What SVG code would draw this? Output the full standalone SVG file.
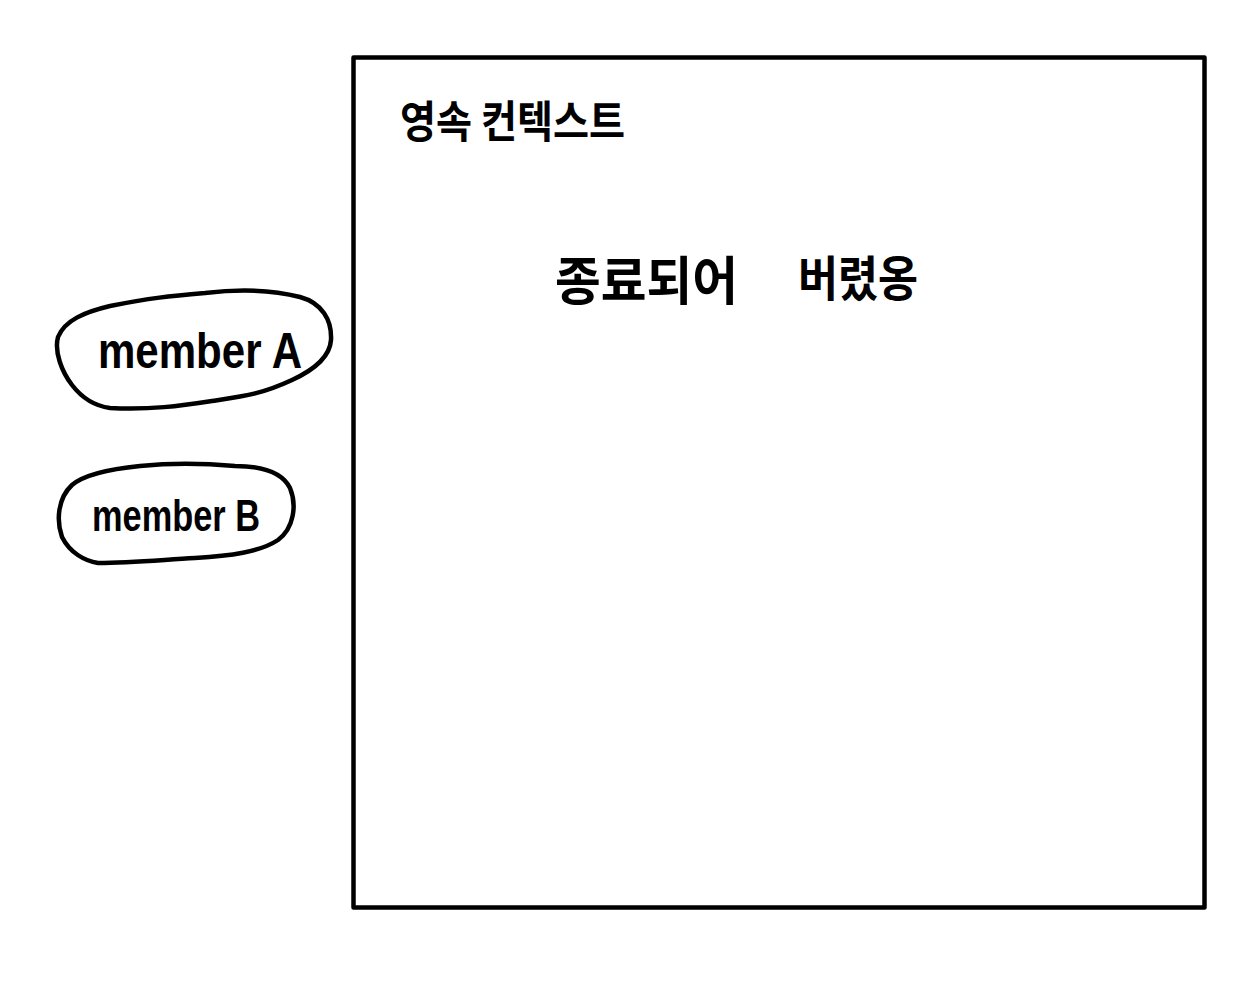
<svg xmlns="http://www.w3.org/2000/svg" width="1248" height="1000" viewBox="0 0 1248 1000">
<style>
.ln{fill:none;stroke:#000;stroke-width:4.5;stroke-linecap:round;stroke-linejoin:round}
.lbl{font-family:"Noto Sans CJK KR","Noto Sans",sans-serif;font-weight:bold;fill:#000}
.en{font-family:"Liberation Sans Narrow","Liberation Sans","Noto Sans",sans-serif;font-weight:bold;fill:#000}
</style>
<rect width="1248" height="1000" fill="#fff"/>
<g id="context">
<rect class="ln" x="353.5" y="57.5" width="851" height="850"/>
<text class="lbl" x="400" y="138" font-size="44" textLength="225" lengthAdjust="spacingAndGlyphs">영속 컨텍스트</text>
<text class="lbl" x="555" y="300" font-size="52" textLength="183" lengthAdjust="spacingAndGlyphs">종료되어</text>
<text class="lbl" x="798" y="296" font-size="48" textLength="120" lengthAdjust="spacingAndGlyphs">버렸옹</text>
</g>
<g id="memberA">
<path class="ln" d="M110,408 C150,410 180,406 212,401 C245,396 262,394 292,380 C318,368 330,355 331,340 C332,320 322,303 300,297 C265,288 230,290 205,293 C170,296 150,298 110,306 C85,312 65,320 58,337 C54,352 62,372 72,385 C82,398 95,406 110,408 Z"/>
<text class="en" x="98" y="368" font-size="50" textLength="204" lengthAdjust="spacingAndGlyphs">member A</text>
</g>
<g id="memberB">
<path class="ln" d="M98,563 C130,563 160,560 195,558 C230,556 260,552 278,540 C294,528 297,505 290,488 C282,472 262,466 235,466 C200,463 170,463 140,466 C110,469 85,474 72,485 C58,498 56,520 62,537 C70,553 85,561 98,563 Z"/>
<text class="en" x="92" y="531" font-size="44" textLength="168" lengthAdjust="spacingAndGlyphs">member B</text>
</g>
<g id="connectors"/>
</svg>
